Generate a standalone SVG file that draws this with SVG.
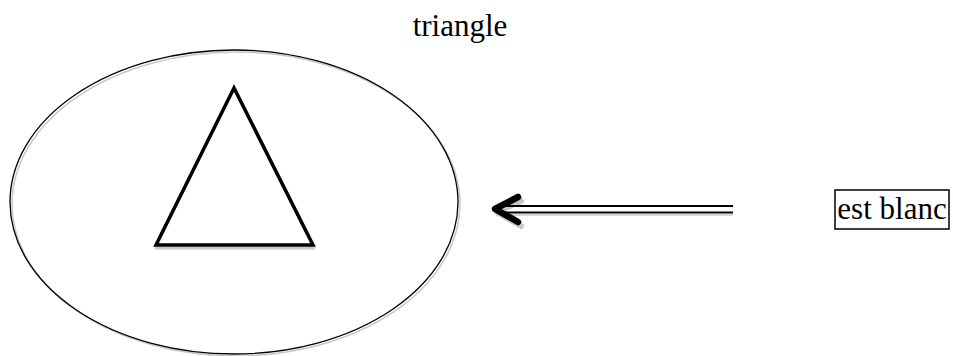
<svg xmlns="http://www.w3.org/2000/svg" width="953" height="356" viewBox="0 0 953 356">
<style>
text{font-family:"Liberation Serif","Times New Roman",serif;font-size:31px;fill:#000}
.sh{stroke:#c8c8c8;fill:none}
</style>
<rect width="953" height="356" fill="#fff"/>
<text x="460" y="36" text-anchor="middle">triangle</text>
<g id="ellipse">
<ellipse class="sh" cx="236" cy="204" rx="224" ry="152" stroke-width="1.5"/>
<ellipse cx="234" cy="202" rx="224" ry="152" fill="none" stroke="#000" stroke-width="1.3"/>
</g>
<g id="triangle">
<line class="sh" x1="155" y1="248" x2="315" y2="248" stroke-width="3"/>
<polygon points="234,88 156,245 313,245" fill="#fff" stroke="#000" stroke-width="3.5"/>
</g>
<g id="connectors">
<line class="sh" x1="496" y1="215" x2="733" y2="215" stroke-width="1.5"/>
<polyline class="sh" points="521,201 497,212 521,226" stroke-width="6" stroke-linecap="round" stroke-linejoin="round"/>
<line x1="500" y1="206" x2="733" y2="206" stroke="#000" stroke-width="1.8"/>
<line x1="500" y1="212.5" x2="733" y2="212.5" stroke="#000" stroke-width="1.8"/>
<polyline points="518,197 495,209 518,222" fill="none" stroke="#000" stroke-width="6.5" stroke-linecap="round" stroke-linejoin="round"/>
</g>
<g id="label">
<rect x="835" y="190" width="114" height="39" fill="none" stroke="#000" stroke-width="1.5"/>
<text x="892" y="219" text-anchor="middle">est blanc</text>
</g>
</svg>
